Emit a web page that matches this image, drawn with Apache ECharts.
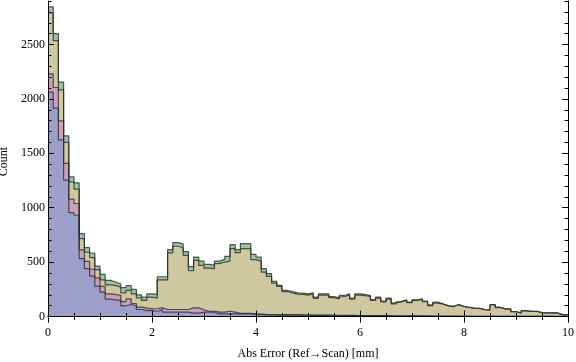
<!DOCTYPE html>
<html>
<head>
<meta charset="utf-8">
<script src="https://cdn.jsdelivr.net/npm/echarts@6/dist/echarts.min.js"></script>
<style>
html, body { margin: 0; padding: 0; background: #fff; }
#main { width: 576px; height: 362px; }
</style>
</head>
<body>
<div id="main"></div>
<script>
// histogram bins: 0..10 mm, width 0.1 (100 bins), four stacked datasets
var binCount = 100;
var binWidth = 0.1;

var blue = [2063,1915,1623,1254,956,931,532,440,372,280,
  224,161,154,148,99,111,99,65,55,55,
  49,62,40,40,40,40,40,32,32,40,
  40,40,25,25,25,25,25,25,25,20,
  18,16,15,14,14,14,13,13,12,12,
  11,11,10,10,9,9,8,8,8,7,
  7,7,6,6,6,5,5,5,5,4,
  4,4,4,4,3,3,3,3,3,2,
  2,2,2,2,2,2,2,2,2,1,
  1,1,1,1,1,1,1,1,1,1];

var red = [168,190,175,154,123,108,81,67,63,75,
  53,48,49,46,39,52,21,21,23,16,
  25,18,25,25,25,25,25,48,48,22,
  9,9,15,15,24,15,5,5,5,5,
  5,4,4,4,4,4,4,4,4,4,
  3,3,3,3,3,3,3,3,2,2,
  2,2,2,2,2,2,2,2,2,2,
  2,2,1,1,1,1,1,1,1,1,
  1,1,1,1,1,1,1,0,0,0,
  0,0,0,0,0,0,0,0,0,0];

var yellow = [560,430,286,193,159,132,103,86,106,76,
  61,83,83,76,80,77,89,86,70,107,
  95,257,272,520,581,567,497,341,436,408,
  396,391,446,461,461,584,557,594,594,498,
  487,388,350,289,259,212,201,189,187,181,
  192,154,184,186,162,150,171,188,151,188,
  184,177,141,162,127,154,109,128,141,121,
  143,151,131,95,120,109,93,87,104,89,
  80,72,71,60,57,104,80,67,67,43,
  32,52,46,46,35,32,32,32,16,16];

var green = [55,65,71,59,46,58,46,40,43,33,
  50,40,32,31,47,44,40,28,30,31,
  34,29,29,30,34,34,35,37,31,40,
  34,33,24,25,43,37,28,46,46,49,
  37,32,25,16,9,10,12,12,12,12,
  12,10,12,10,10,10,12,10,8,12,
  10,8,8,8,6,8,10,6,6,5,
  5,6,5,8,8,4,4,4,3,3,
  3,3,3,2,2,4,3,2,2,2,
  1,2,2,2,1,1,1,1,1,1];

var yMajor = [0, 500, 1000, 1500, 2000, 2500];
var yMinor = [];
for (var t = 0; t <= 2900; t += 100) yMinor.push(t);

var layers = [blue, red, yellow, green];
var colors = ['#9e9ecb', '#cc9fbb', '#cdc8a0', '#99c7a3'];

// running totals, bottom layer first
var tops = [];
var run = [];
for (var i = 0; i < binCount; i++) run.push(0);
layers.forEach(function (arr) {
  run = run.map(function (v, k) { return v + arr[k]; });
  tops.push(run.slice());
});

function stepData(vals) {
  var pts = [];
  for (var k = 0; k < vals.length; k++) pts.push([k * binWidth, vals[k]]);
  pts.push([vals.length * binWidth, vals[vals.length - 1]]);
  return pts;
}

var series = [];
// draw the tallest first so lower layers sit on top of it
for (var s = layers.length - 1; s >= 0; s--) {
  series.push({
    type: 'line',
    step: 'end',
    showSymbol: false,
    data: stepData(tops[s]),
    lineStyle: { color: 'rgba(45,45,45,0.8)', width: 1.2 },
    areaStyle: { color: colors[s], opacity: 1 },
    silent: true
  });
}

var serif = 'Liberation Serif';
var frame = { show: true, lineStyle: { color: '#000', width: 1 } };
function plain(v) { return String(v); }

function xAx(pos, main) {
  return {
    type: 'value', position: pos, min: 0, max: 10, interval: 2, z: 10,
    axisLine: frame,
    axisTick: { show: true, inside: true, length: 6, lineStyle: { color: '#000' } },
    minorTick: { show: true, splitNumber: 4, length: 3.5, lineStyle: { color: '#000' } },
    splitLine: { show: false },
    axisLabel: { show: main, formatter: plain, fontFamily: serif, fontSize: 12, color: '#000', margin: 5 },
    name: main ? 'Abs Error (Ref\u2192Scan) [mm]' : '',
    nameLocation: 'middle', nameGap: 26,
    nameTextStyle: { fontFamily: serif, fontSize: 12, color: '#000' }
  };
}

function yAx(pos, ticks, len, main, label) {
  return {
    type: 'value', position: pos, min: -50, max: 2900, offset: 0, z: 10,
    axisLine: main ? frame : { show: false },
    axisTick: { show: true, inside: true, length: len, customValues: ticks, lineStyle: { color: '#000' } },
    splitLine: { show: false },
    axisLabel: { show: label, customValues: yMajor, formatter: plain, fontFamily: serif, fontSize: 12, color: '#000', margin: 3 },
    name: label ? 'Count' : '',
    nameLocation: 'middle', nameGap: 31, nameRotate: 90,
    nameTextStyle: { fontFamily: serif, fontSize: 12, color: '#000' }
  };
}

var myChart = echarts.init(document.getElementById('main'));
var option = {
  animation: false,
  grid: { left: 48, top: 1, width: 520, height: 321, containLabel: false, outerBoundsMode: 'none' },
  xAxis: [xAx('bottom', true), xAx('top', false)],
  yAxis: [
    yAx('left', yMajor, 6, true, true),
    yAx('left', yMinor, 3.5, false, false),
    yAx('right', yMajor, 6, true, false),
    yAx('right', yMinor, 3.5, false, false)
  ],
  series: series
};
myChart.setOption(option);
</script>
</body>
</html>
